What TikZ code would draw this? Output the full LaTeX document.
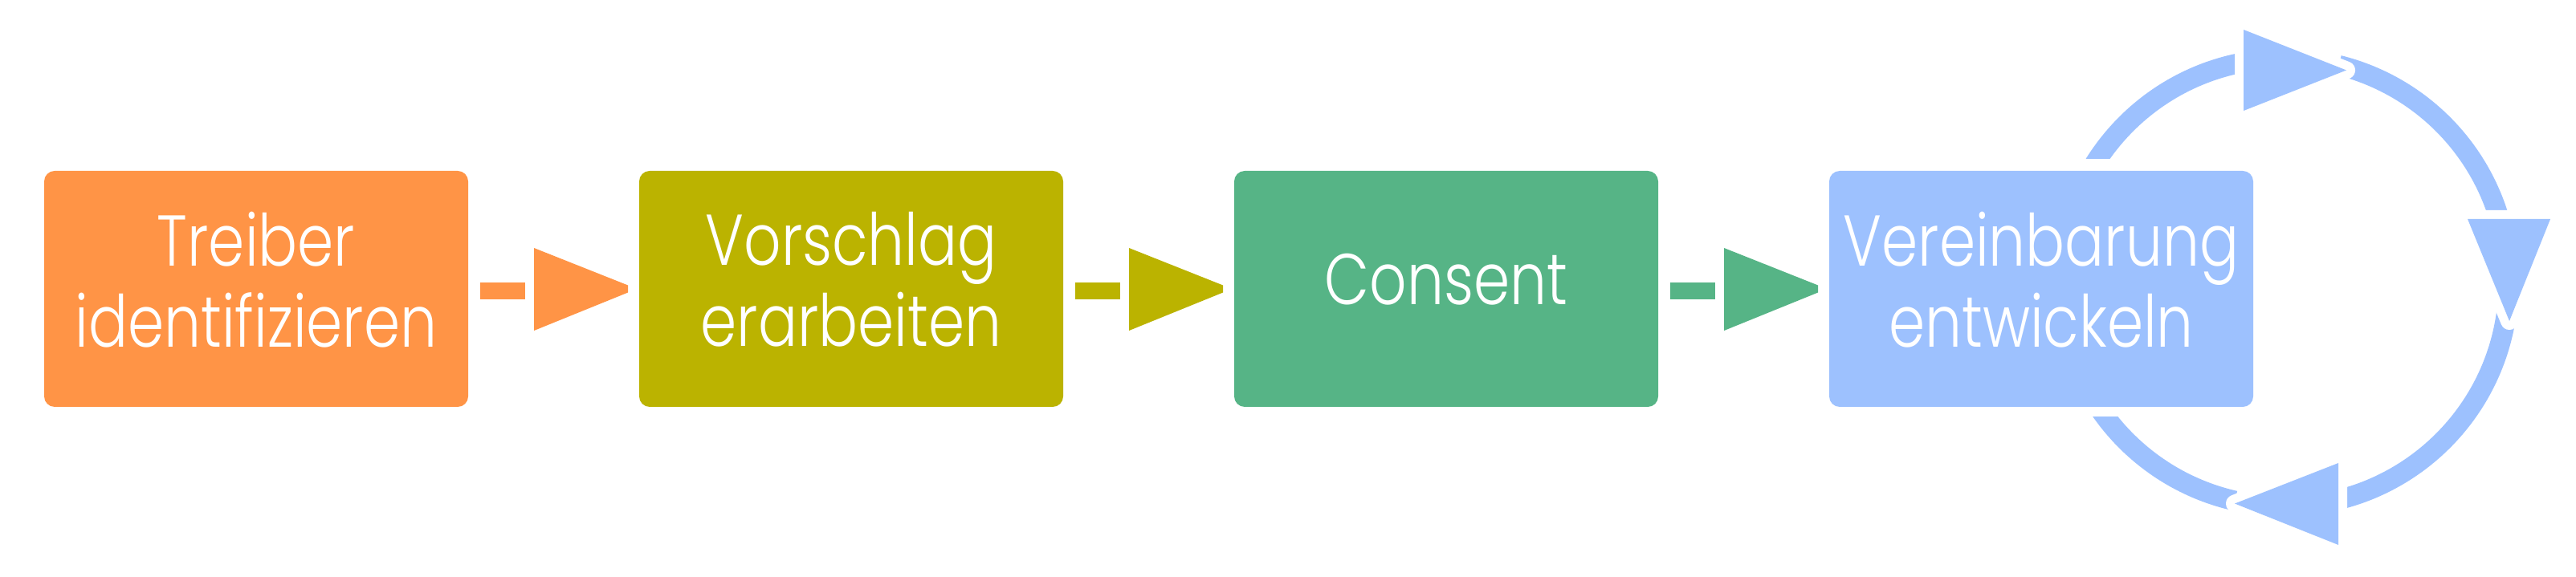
\documentclass[tikz,border=0pt]{standalone}
\usepackage{fontspec}
\IfFontExistsTF{Poppins Light}
  {\setmainfont{Poppins Light}[FakeStretch=0.81]}
  {\setmainfont{Poppins}[FakeStretch=0.81]}
\usetikzlibrary{positioning,calc,backgrounds}
\definecolor{drvorange}{HTML}{FF9446}
\definecolor{propolive}{HTML}{BBB300}
\definecolor{consgreen}{HTML}{56B486}
\definecolor{agrblue}{HTML}{9DC1FE}
\tikzset{
  stage/.style={rectangle, rounded corners=0.13cm, fill=#1, text=white,
    minimum width=5.28cm, minimum height=2.94cm, align=center,
    inner sep=0pt, outer sep=0pt, text depth=0.24cm,
    font=\fontsize{25.5}{28.7}\selectfont},
  ring/.style={draw=agrblue, line width=0.25cm},
  ringtip/.style={fill=agrblue,
    preaction={draw=white, line width=0.22cm, line join=round}}
}
\newcommand{\flowarrow}[3]{%
  \fill[#3] ($(#1.east)+(0.15,-0.13)$) rectangle ($(#1.east)+(0.71,0.08)$);
  \fill[#3] ($(#1.east)+(0.82,0.51)$) -- ($(#2.west)+(-0.14,0.045)$)
    -- ($(#2.west)+(-0.14,-0.045)$) -- ($(#1.east)+(0.82,-0.52)$) -- cycle;
}

\begin{document}
\begin{tikzpicture}[node distance=2.13cm]
    \useasboundingbox (0,0) rectangle (32.08,7.19);

    \node[stage=drvorange] (drv) at (3.19,3.59) {Treiber\\identifizieren};
    \node[stage=propolive, right=of drv] (prop) {Vorschlag\\erarbeiten};
    \node[stage=consgreen, right=of prop] (cons) {Consent};
    \node[stage=agrblue, right=of cons] (agr) {Vereinbarung\\entwickeln};

    \flowarrow{drv}{prop}{drvorange}
    \flowarrow{prop}{cons}{propolive}
    \flowarrow{cons}{agr}{consgreen}

    \coordinate (loop) at ($(agr.center)+(3.03,0.08)$);

    \begin{scope}[on background layer]
      \draw[ring] ([shift={(95:2.79)}]loop) arc[start angle=95, end angle=257.2, radius=2.79];
      \draw[ring] ([shift={(76:2.79)}]loop) arc[start angle=76, end angle=10, radius=2.79];
      \draw[ring] ([shift={(-6:2.79)}]loop) arc[start angle=-6, end angle=-85, radius=2.79];
      \fill[white] ($(agr.south west)+(-0.13,-0.12)$) rectangle ($(agr.north east)+(0.13,0.15)$);
    \end{scope}

    \fill[ringtip] ($(loop)+(-0.51,3.15)$) -- ($(loop)+(0.77,2.645)$) -- ($(loop)+(-0.51,2.14)$) -- cycle;
    \fill[ringtip] ($(loop)+(2.28,0.79)$) -- ($(loop)+(3.31,0.79)$) -- ($(loop)+(2.80,-0.48)$) -- cycle;
    \fill[ringtip] ($(loop)+(0.67,-2.25)$) -- ($(loop)+(0.67,-3.27)$) -- ($(loop)+(-0.62,-2.755)$) -- cycle;
\end{tikzpicture}
\end{document}
